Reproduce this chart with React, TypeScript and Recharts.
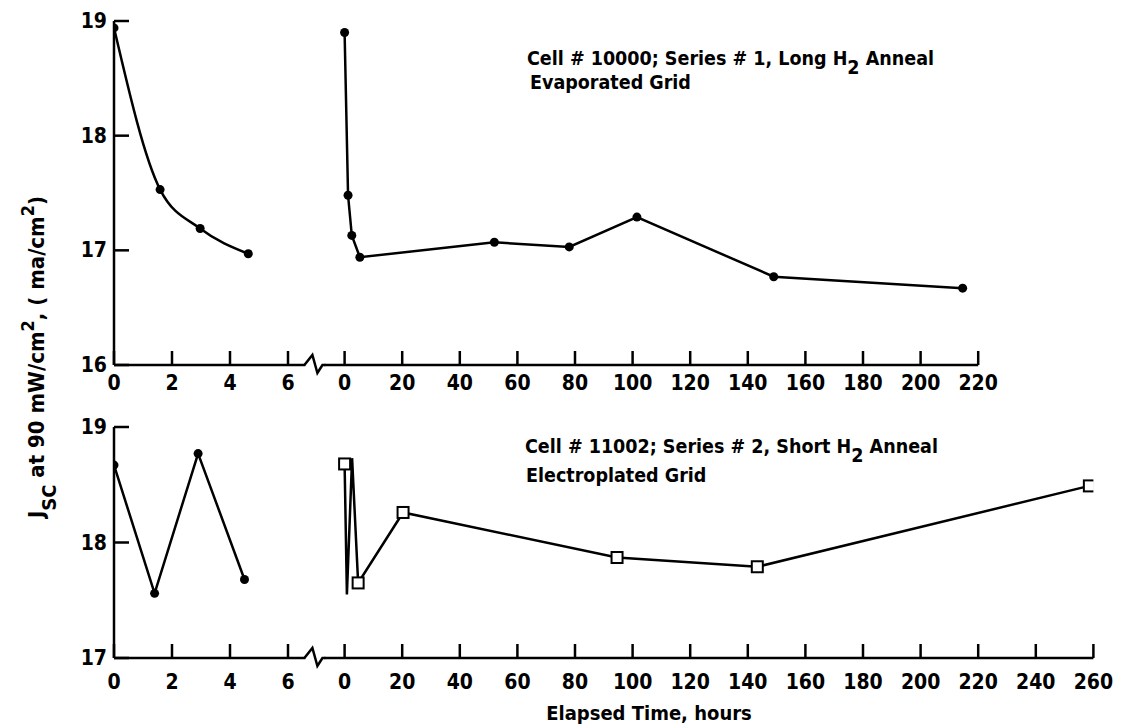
import React from "react";
import { LineChart, Line, XAxis, YAxis } from "recharts";

const W = 1123;
const H = 728;
const FONT = "'Liberation Sans Narrow', 'DejaVu Sans Condensed', 'Arial Narrow', sans-serif";

// short-time segment, hours 0-6
const shortTicks = [0, 2, 4, 6];
const topShortHours = [0, 1.59, 2.97, 4.63];
const topShortJsc = [18.94, 17.53, 17.19, 16.97];
const bottomShortHours = [0, 1.4, 2.9, 4.5];
const bottomShortJsc = [18.67, 17.56, 18.77, 17.68];

// long-time segment
const topLongTicks = [0, 20, 40, 60, 80, 100, 120, 140, 160, 180, 200, 220];
const topLongHours = [0, 1.2, 2.5, 5.3, 52, 78, 101.5, 149, 214.6];
const topLongJsc = [18.9, 17.48, 17.13, 16.94, 17.07, 17.03, 17.29, 16.77, 16.67];
const bottomLongTicks = [0, 20, 40, 60, 80, 100, 120, 140, 160, 180, 200, 220, 240, 260];
const bottomLongHours = [0, 0.8, 2.6, 4.7, 20.3, 94.6, 143.3, 258.6];
const bottomLongJsc = [18.68, 17.55, 18.73, 17.65, 18.26, 17.87, 17.79, 18.49];
const bottomLongMarked = [true, false, false, true, true, true, true, true];

const topYTicks = [16, 17, 18, 19];
const bottomYTicks = [17, 18, 19];

// layout
const AXIS_X = 114;
const SHORT_PX = 29; // px per hour, short segment
const SHORT_MAX = 6.6;
const LONG_PX = 2.88; // px per hour, long segment
const LONG_ZERO = 344.6;
const LONG_MIN = -7;
const Y_AXIS_W = 60;
const X_AXIS_H = 40;
const STROKE = 2.5;
const TICK_FONT = 21;

const toRows = (hours: number[], jsc: number[], marked?: boolean[]) =>
  hours.map((h, i) => ({ h, jsc: jsc[i], marked: marked ? marked[i] : true }));

const XTick = (props: any) => {
  const { x, y, payload, labelDy } = props;
  return (
    <g>
      <line x1={x} x2={x} y1={y} y2={y - 14} stroke="#000" strokeWidth={STROKE} />
      <text x={x} y={y + labelDy} textAnchor="middle" dominantBaseline="central"
        fontFamily={FONT} fontWeight={700} fontSize={TICK_FONT} fill="#000">
        {payload.value}
      </text>
    </g>
  );
};

const YTick = (props: any) => {
  const { x, y, payload } = props;
  return (
    <g>
      <line x1={x} x2={x + 15} y1={y} y2={y} stroke="#000" strokeWidth={STROKE} />
      <text x={x - 7} y={y} textAnchor="end" dominantBaseline="central"
        fontFamily={FONT} fontWeight={700} fontSize={TICK_FONT} fill="#000">
        {payload.value}
      </text>
    </g>
  );
};

const circleDot = (p: any) => (
  <circle key={`c-${p.index}`} cx={p.cx} cy={p.cy} r={4.5} fill="#000" stroke="none" />
);

const squareDot = (p: any) =>
  p.payload.marked ? (
    <rect key={`s-${p.index}`} x={p.cx - 5.5} y={p.cy - 5.5} width={11} height={11}
      fill="#fff" stroke="#000" strokeWidth={2} />
  ) : (
    <g key={`s-${p.index}`} />
  );

type PanelProps = {
  yTop: number; // pixel of the top of the value axis
  yAxis: number; // pixel of the time axis
  yDomain: [number, number];
  yTicks: number[];
  shortRows: object[];
  shortCurve: "monotone" | "linear";
  longRows: object[];
  longMax: number;
  longTicks: number[];
  longDot: (p: any) => React.ReactElement;
  labelDy: number;
};

const Panel = ({ yTop, yAxis, yDomain, yTicks, shortRows, shortCurve, longRows, longMax, longTicks, longDot, labelDy }: PanelProps) => {
  const shortEnd = AXIS_X + SHORT_MAX * SHORT_PX;
  const longStart = LONG_ZERO + LONG_MIN * LONG_PX;
  const longEnd = LONG_ZERO + longMax * LONG_PX;
  const box = { position: "absolute" as const, left: 0, top: 0 };
  return (
    <>
      <div style={box}>
        <LineChart width={W} height={H} data={shortRows}
          margin={{ top: yTop, bottom: H - yAxis - X_AXIS_H, left: AXIS_X - Y_AXIS_W, right: W - shortEnd }}>
          <XAxis dataKey="h" type="number" domain={[0, SHORT_MAX]} ticks={shortTicks} allowDataOverflow
            height={X_AXIS_H} tickSize={0} tickMargin={0} tickLine={false}
            axisLine={{ stroke: "#000", strokeWidth: STROKE }}
            tick={(p: any) => <XTick {...p} labelDy={labelDy} />} />
          <YAxis type="number" domain={yDomain} ticks={yTicks} allowDataOverflow width={Y_AXIS_W}
            tickSize={0} tickMargin={0} tickLine={false}
            axisLine={{ stroke: "#000", strokeWidth: STROKE }}
            tick={(p: any) => <YTick {...p} />} />
          <Line dataKey="jsc" type={shortCurve} stroke="#000" strokeWidth={STROKE}
            dot={circleDot} activeDot={false} isAnimationActive={false} />
        </LineChart>
      </div>
      <div style={box}>
        <LineChart width={W} height={H} data={longRows}
          margin={{ top: yTop, bottom: H - yAxis - X_AXIS_H, left: longStart, right: W - longEnd }}>
          <XAxis dataKey="h" type="number" domain={[LONG_MIN, longMax]} ticks={longTicks} allowDataOverflow
            height={X_AXIS_H} tickSize={0} tickMargin={0} tickLine={false}
            axisLine={{ stroke: "#000", strokeWidth: STROKE }}
            tick={(p: any) => <XTick {...p} labelDy={labelDy} />} />
          <YAxis type="number" domain={yDomain} allowDataOverflow hide />
          <Line dataKey="jsc" type="linear" stroke="#000" strokeWidth={STROKE}
            dot={longDot} activeDot={false} isAnimationActive={false} />
        </LineChart>
      </div>
      <svg width={W} height={H} style={{ ...box, pointerEvents: "none" }}>
        <path
          d={`M${shortEnd - 1},${yAxis} L${shortEnd + 7},${yAxis - 10} L${shortEnd + 12},${yAxis + 8} L${longStart - 2},${yAxis} L${longStart + 1},${yAxis}`}
          fill="none" stroke="#000" strokeWidth={STROKE} />
      </svg>
    </>
  );
};

const textStyle = { fontFamily: FONT, fontWeight: 700, fill: "#000" };

export default function App() {
  return (
    <div style={{ position: "absolute", left: 0, top: 0, width: W, height: H, background: "#fff" }}>
      <Panel yTop={21} yAxis={365} yDomain={[16, 19]} yTicks={topYTicks}
        shortRows={toRows(topShortHours, topShortJsc)} shortCurve="monotone"
        longRows={toRows(topLongHours, topLongJsc)} longMax={220} longTicks={topLongTicks}
        longDot={circleDot} labelDy={18} />
      <Panel yTop={427} yAxis={658} yDomain={[17, 19]} yTicks={bottomYTicks}
        shortRows={toRows(bottomShortHours, bottomShortJsc)} shortCurve="linear"
        longRows={toRows(bottomLongHours, bottomLongJsc, bottomLongMarked)} longMax={260} longTicks={bottomLongTicks}
        longDot={squareDot} labelDy={24} />
      <svg width={W} height={H} style={{ position: "absolute", left: 0, top: 0, pointerEvents: "none" }}>
        <text x={527} y={65} fontSize={19.5} {...textStyle}>
          Cell # 10000; Series # 1,  Long H<tspan dy={9}>2</tspan><tspan dy={-9}> Anneal</tspan>
        </text>
        <text x={530} y={89} fontSize={19.5} {...textStyle}>Evaporated Grid</text>
        <text x={525} y={453} fontSize={19.5} {...textStyle}>
          Cell # 11002; Series # 2,  Short H<tspan dy={9}>2</tspan><tspan dy={-9}> Anneal</tspan>
        </text>
        <text x={526} y={482} fontSize={19.5} {...textStyle}>Electroplated Grid</text>
        <text x={649} y={720} fontSize={20} textAnchor="middle" {...textStyle}>Elapsed Time, hours</text>
        <text transform="translate(44,357) rotate(-90)" fontSize={22} textAnchor="middle" {...textStyle}>
          J<tspan baselineShift="sub" fontSize={20}>SC</tspan> at 90 mW/cm<tspan baselineShift="super" fontSize={18}>2</tspan>, ( ma/cm<tspan baselineShift="super" fontSize={18}>2</tspan>)
        </text>
      </svg>
    </div>
  );
}
